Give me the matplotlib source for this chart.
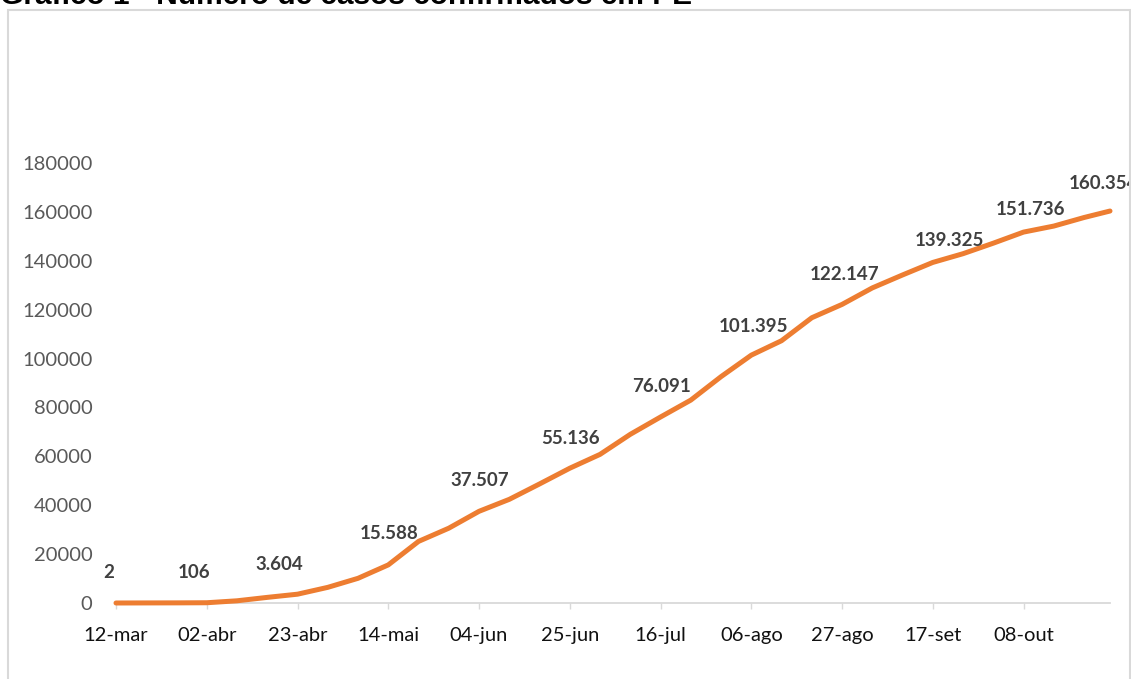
import matplotlib
matplotlib.use("Agg")
import matplotlib.pyplot as plt
import matplotlib.dates as mdates
from matplotlib.patches import Rectangle
import pandas as pd

# ---- data ----
dates = ["2020-03-12", "2020-03-19", "2020-03-26", "2020-04-02", "2020-04-09",
         "2020-04-16", "2020-04-23", "2020-04-30", "2020-05-07", "2020-05-14",
         "2020-05-21", "2020-05-28", "2020-06-04", "2020-06-11", "2020-06-18",
         "2020-06-25", "2020-07-02", "2020-07-09", "2020-07-16", "2020-07-23",
         "2020-07-30", "2020-08-06", "2020-08-13", "2020-08-20", "2020-08-27",
         "2020-09-03", "2020-09-10", "2020-09-17", "2020-09-24", "2020-10-01",
         "2020-10-08", "2020-10-15", "2020-10-22", "2020-10-28"]
cases = [2, 30, 55, 106, 900, 2300, 3604, 6400, 10100, 15588,
         25200, 30600, 37507, 42400, 48700, 55136, 60800, 69000, 76091, 83000,
         92600, 101395, 107300, 116700, 122147, 128900, 134200, 139325, 142900, 147200,
         151736, 154200, 157700, 160354]

label_dates = ["2020-03-12", "2020-04-02", "2020-04-23", "2020-05-14", "2020-06-04",
               "2020-06-25", "2020-07-16", "2020-08-06", "2020-08-27", "2020-09-17",
               "2020-10-08", "2020-10-28"]
label_texts = ["2", "106", "3.604", "15.588", "37.507", "55.136", "76.091",
               "101.395", "122.147", "139.325", "151.736", "160.354"]

tick_dates = ["2020-03-12", "2020-04-02", "2020-04-23", "2020-05-14", "2020-06-04",
              "2020-06-25", "2020-07-16", "2020-08-06", "2020-08-27", "2020-09-17",
              "2020-10-08"]
tick_labels = ["12-mar", "02-abr", "23-abr", "14-mai", "04-jun", "25-jun",
               "16-jul", "06-ago", "27-ago", "17-set", "08-out"]

y_ticks = [0, 20000, 40000, 60000, 80000, 100000, 120000, 140000, 160000, 180000]

title = "Gráfico 1 - Número de casos confirmados em PE"

# label offsets in pixels (dx, dy above point)
label_offsets_px = [(-7, 30), (-13, 30), (-18, 30), (1, 31), (1, 31), (1, 30),
                    (1, 30), (2, 29), (2, 30), (17, 22), (7, 23), (-7, 28)]

# ---- figure ----
W, H, DPI = 1131, 679, 100
fig = plt.figure(figsize=(W / DPI, H / DPI), dpi=DPI)
fig.patch.set_facecolor("white")

x = pd.to_datetime(dates)
lx = pd.to_datetime(label_dates)
tx = pd.to_datetime(tick_dates)
vals = dict(zip(x, cases))

left, right, bottom, top = 116, 1110, 603, 163
ax = fig.add_axes([left / W, 1 - bottom / H, (right - left) / W, (bottom - top) / H])

orange = "#ED7D31"
ax.plot(x, cases, color=orange, lw=3.6, solid_capstyle="round", solid_joinstyle="round",
        clip_on=False, zorder=3)

ax.set_xlim(x[0], x[-1])
ax.set_ylim(0, 180000)

for spine in ["top", "right", "left"]:
    ax.spines[spine].set_visible(False)
ax.spines["bottom"].set_color("#D9D9D9")
ax.spines["bottom"].set_linewidth(1.3)

ax.set_xticks(tx)
ax.set_xticklabels(tick_labels)
ax.set_yticks(y_ticks)
ax.set_yticklabels([str(v) for v in y_ticks])

font = "Lato"
ax.tick_params(axis="x", length=4.5, width=1.0, color="#D9D9D9", pad=13,
               labelsize=14.5, labelcolor="#111111")
ax.tick_params(axis="y", length=0, pad=17, labelsize=14.5, labelcolor="#595959")
for lab in ax.get_xticklabels() + ax.get_yticklabels():
    lab.set_fontfamily(font)

for d, t, (dx, dy) in zip(lx, label_texts, label_offsets_px):
    yv = vals[d]
    ax.annotate(t, xy=(d, yv), xytext=(dx * 0.72, dy * 0.72), textcoords="offset points",
                ha="center", va="center", fontsize=13.5, fontweight="bold",
                color="#404040", fontfamily=font, annotation_clip=False, zorder=4)

# outer chart border
fig.patches.append(Rectangle((8 / W, -0.05), (1130 - 8) / W, 1.05 - 10 / H,
                             transform=fig.transFigure, fill=False,
                             edgecolor="#D9D9D9", lw=1.5))

# title, clipped at the top of the image
tt = fig.text(0.0, 1 - 4 / H, title, ha="left", va="baseline",
              fontsize=16, fontweight="bold", fontfamily="Liberation Sans", color="black")
fig.canvas.draw()
wpx = tt.get_window_extent().width
tt.set_fontsize(16 * 693 / wpx)

fig.savefig("out.png", dpi=DPI, facecolor="white")
